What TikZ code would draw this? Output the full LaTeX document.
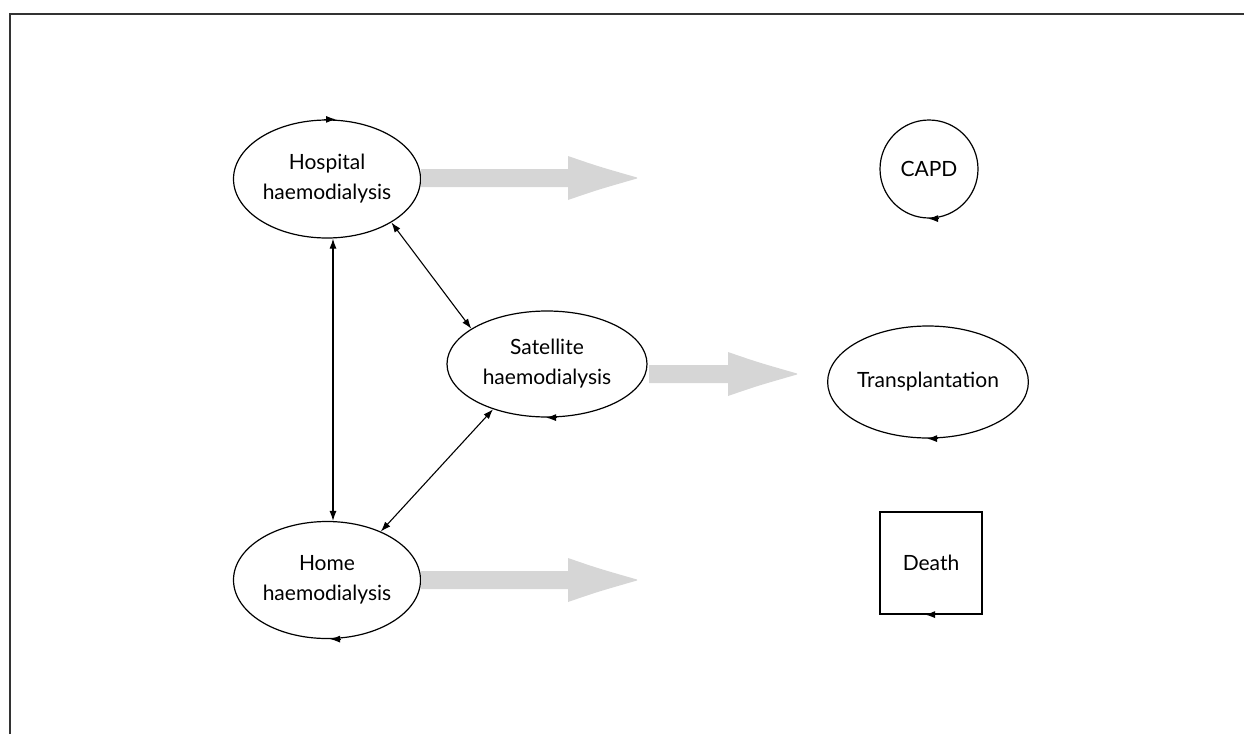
\documentclass[tikz,border=0pt]{standalone}
\usepackage{fontspec}
\setmainfont{Lato}
\usetikzlibrary{shapes.geometric,arrows.meta}
\tikzset{
  statefont/.style={font=\fontsize{21}{30}\selectfont},
  state/.style={draw, line width=1.2pt, ellipse, inner sep=0pt, align=center, statefont},
  circstate/.style={draw, line width=1.2pt, circle, inner sep=0pt, minimum size=98, statefont},
  boxstate/.style={draw, line width=1.2pt, rectangle, inner sep=0pt, minimum size=102, statefont},
  link/.style={line width=1.1pt, {Latex[length=10pt,width=7pt]}-{Latex[length=10pt,width=7pt]}},
  loop/.style={line width=1.1pt, -{Latex[length=10pt,width=7pt]}},
  flow/.style={fill=black!16, draw=none},
}
\newcommand{\grayarrow}[3]{% start x, y, end x
  \fill[flow] (#1,#2-9) -- (#3-69,#2-9) -- (#3-69,#2-22)
     .. controls (#3-40,#2-12) .. (#3,#2-0.5) -- (#3,#2+0.5)
     .. controls (#3-40,#2+12) .. (#3-69,#2+22) -- (#3-69,#2+9) -- (#1,#2+9) -- cycle;}
\begin{document}
\begin{tikzpicture}[x=1pt,y=-1pt]
\useasboundingbox (0,0) rectangle (1244,734);
\draw[line width=2.2pt, black!80] (10,734) -- (10,14) -- (1244,14);

\node[state, minimum width=187, minimum height=118] (hosp) at (327,179) {Hospital\\haemodialysis};
\node[state, minimum width=200, minimum height=106] (sat) at (547,364) {Satellite\\haemodialysis};
\node[state, minimum width=187, minimum height=117] (home) at (327,580) {Home\\haemodialysis};
\node[circstate] (capd) at (929,169) {CAPD};
\node[state, minimum width=200, minimum height=112] (trans) at (928,382) {Transplantation};
\node[boxstate] (death) at (931,563) {Death};

% loop arrowheads
\draw[loop] ([xshift=-3pt]hosp.north) -- ([xshift=9pt]hosp.north);
\draw[loop] ([xshift=10pt]sat.south) -- ([xshift=-1pt]sat.south);
\draw[loop] ([xshift=14pt]home.south) -- ([xshift=3pt]home.south);
\draw[loop] ([xshift=10pt]capd.south) -- ([xshift=-1pt]capd.south);
\draw[loop] ([xshift=10pt]trans.south) -- ([xshift=-1pt]trans.south);
\draw[loop] ([xshift=5pt]death.south) -- ([xshift=-6pt]death.south);

% transitions
\draw[link] ([xshift=6pt]hosp.south) -- ([xshift=6pt]home.north);
\draw[link] (hosp.-34) -- (sat.155);
\draw[link] (sat.-140) -- (home.42);

% gray flow arrows
\grayarrow{421}{178}{637}
\grayarrow{649}{374}{797}
\grayarrow{421}{580}{637}
\end{tikzpicture}
\end{document}
